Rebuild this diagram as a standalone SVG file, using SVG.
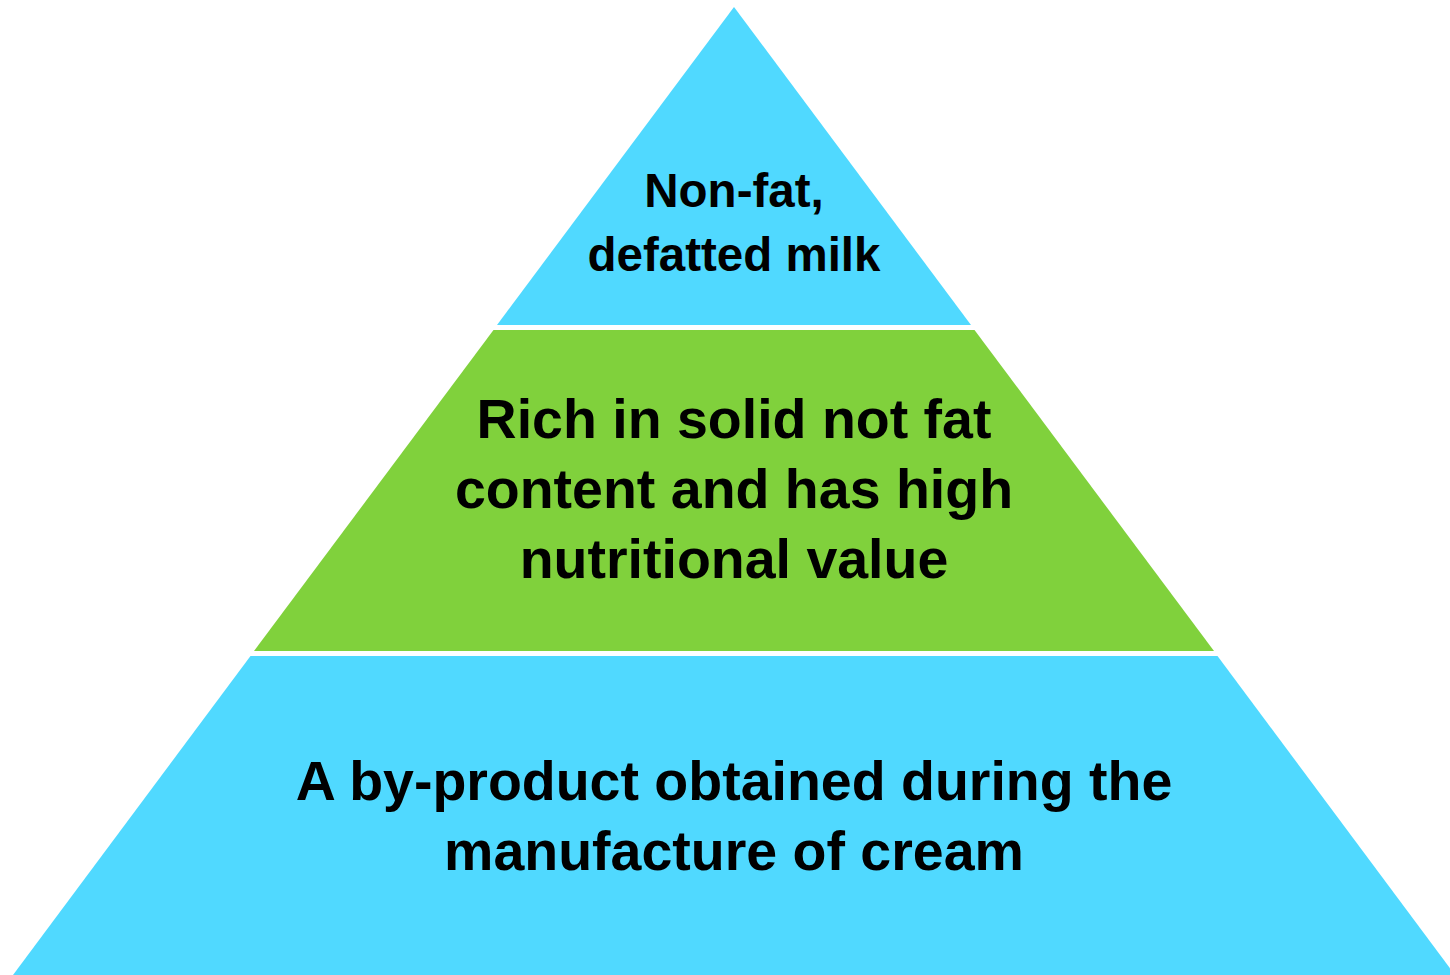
<svg xmlns="http://www.w3.org/2000/svg" width="1450" height="975" viewBox="0 0 1450 975">
<style>
.blue{fill:#50D9FF}
.green{fill:#80D13C}
text{font-family:"Liberation Sans",Arial,sans-serif;font-weight:bold;fill:#000;text-anchor:middle}
.t1{font-size:47.5px}
.t2{font-size:55.5px}
</style>
<rect width="1450" height="975" fill="#fff"/>
<g id="tier-top">
<polygon class="blue" points="734,7 971,325 497,325"/>
<text class="t1" x="734" y="207">Non-fat,</text>
<text class="t1" x="734" y="271">defatted milk</text>
</g>
<g id="tier-middle">
<polygon class="green" points="493.5,330 974.5,330 1214,651 254,651"/>
<text class="t2" x="734" y="438">Rich in solid not fat</text>
<text class="t2" x="734" y="508">content and has high</text>
<text class="t2" x="734" y="578">nutritional value</text>
</g>
<g id="tier-bottom">
<polygon class="blue" points="250.5,656 1217.5,656 1455,975 13,975"/>
<text class="t2" x="734" y="800">A by-product obtained during the</text>
<text class="t2" x="734" y="870">manufacture of cream</text>
</g>
<g id="connectors"></g>
</svg>
